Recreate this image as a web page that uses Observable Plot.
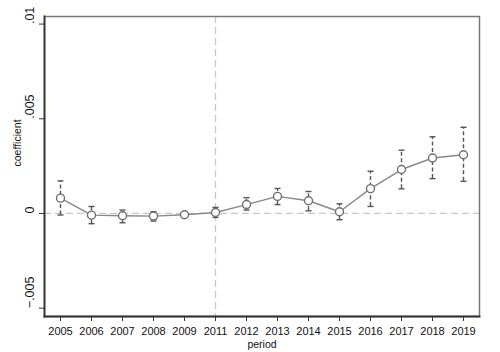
<!DOCTYPE html>
<html>
<head>
<meta charset="utf-8">
<script src="https://cdn.jsdelivr.net/npm/d3@7"></script>
<script src="https://cdn.jsdelivr.net/npm/@observablehq/plot@0.6"></script>
<style>
  html, body { margin: 0; padding: 0; background: #fff; }
  #chart { width: 500px; height: 352px; }
</style>
</head>
<body>
<div id="chart"></div>
<script>
const periods = ["2005","2006","2007","2008","2009","2011","2012","2013","2014","2015","2016","2017","2018","2019"];
const coef  = [0.00081,-0.00009,-0.00012,-0.00014,-0.00007,0.00005,0.00047,0.00090,0.00067,0.00009,0.00131,0.00232,0.00293,0.00310];
const lower = [-0.00008,-0.00054,-0.00049,-0.00040,-0.00016,-0.00021,0.00018,0.00047,0.00014,-0.00033,0.00037,0.00130,0.00184,0.00170];
const upper = [0.00172,0.00037,0.00018,0.00009,0.00002,0.00032,0.00083,0.00132,0.00116,0.00051,0.00223,0.00334,0.00405,0.00455];
const yTicks = [-0.005, 0, 0.005, 0.01];
const yLimits = [-0.00544, 0.0104];
const eventPeriod = "2011";

const data = periods.map((p, i) => ({period: p, coef: coef[i], lo: lower[i], hi: upper[i]}));
const fmt = d => d === 0 ? "0" : d3.format("~g")(d).replace("0.", ".");
const capSymbol = {draw(ctx) { ctx.moveTo(-3, 0); ctx.lineTo(3, 0); }};

const chart = Plot.plot({
  width: 500,
  height: 352,
  marginLeft: 44,
  marginRight: 21,
  marginTop: 16,
  marginBottom: 36,
  style: {fontFamily: "'Liberation Sans', Arial, sans-serif", color: "#111", background: "#fff"},
  x: {type: "point", domain: periods, padding: 0.5, label: null},
  y: {domain: yLimits, label: null},
  marks: [
    Plot.ruleY([0], {stroke: "#c8c8c8", strokeWidth: 1.3, strokeDasharray: "7,4"}),
    Plot.ruleX([eventPeriod], {stroke: "#c8c8c8", strokeWidth: 1.3, strokeDasharray: "7,4"}),
    Plot.frame({stroke: "#777", strokeWidth: 1.5}),
    Plot.frame({anchor: "left", stroke: "#333", strokeWidth: 1.8}),
    Plot.frame({anchor: "bottom", stroke: "#333", strokeWidth: 1.8}),
    Plot.axisY(yTicks, {tickSize: 5, stroke: "#333", text: null}),
    Plot.text(yTicks, {y: d => d, text: fmt, frameAnchor: "left", dx: -15, rotate: -90, fontSize: 12.5, fill: "#111"}),
    Plot.axisX({tickSize: 5, stroke: "#333", tickPadding: 6, fontSize: 11, fill: "#111"}),
    Plot.text(["coefficient"], {frameAnchor: "left", dx: -27, rotate: -90, fontSize: 10.5, fill: "#111"}),
    Plot.text(["period"], {frameAnchor: "bottom", dy: 31, fontSize: 10.5, fill: "#111"}),
    Plot.ruleX(data, {x: "period", y1: "lo", y2: "hi", stroke: "#555", strokeWidth: 1.4, strokeDasharray: "4,2.5"}),
    Plot.dot(data, {x: "period", y: "hi", symbol: capSymbol, stroke: "#555", strokeWidth: 1.4, fill: "none"}),
    Plot.dot(data, {x: "period", y: "lo", symbol: capSymbol, stroke: "#555", strokeWidth: 1.4, fill: "none"}),
    Plot.line(data, {x: "period", y: "coef", stroke: "#888", strokeWidth: 1.4}),
    Plot.dot(data, {x: "period", y: "coef", r: 4, stroke: "#6f6f6f", fill: "white", strokeWidth: 1.4})
  ]
});
document.getElementById("chart").appendChild(chart);
</script>
</body>
</html>
